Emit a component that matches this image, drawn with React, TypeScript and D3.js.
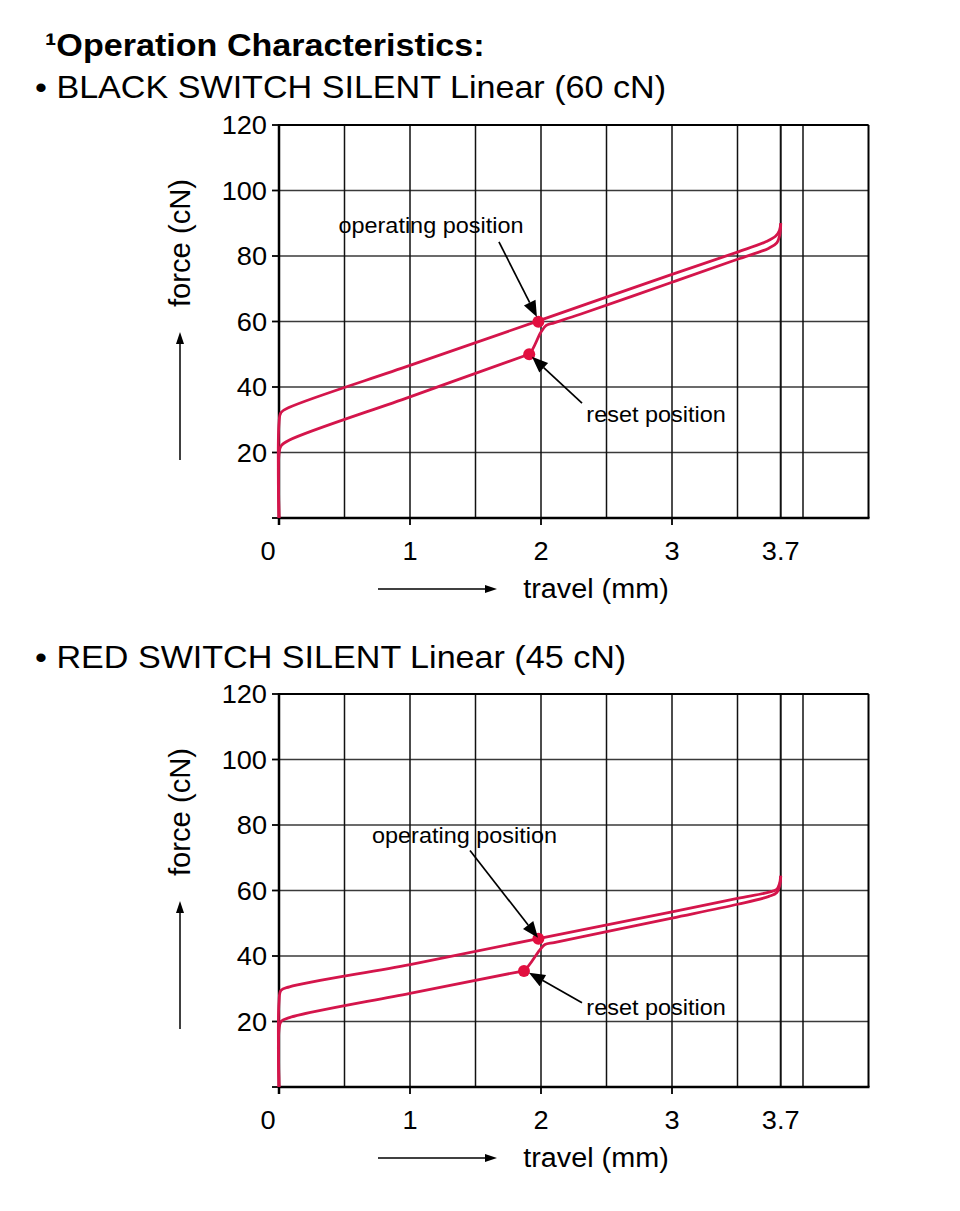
import React from "react";
import * as d3 from "d3";

// ---------- data ----------
const yTickValues = [20, 40, 60, 80, 100, 120];
const xGridValues = [0.5, 1, 1.5, 2, 2.5, 3, 3.5, 3.83, 4];
const xTickValues = [0, 1, 2, 3, 3.83];
const xTickLabels = ["0", "1", "2", "3", "3.7"];
const xAxisTickMarks = [0, 1, 2, 3];

// BLACK switch (60 cN): [travel mm, force cN]
const blackPress: [number, number][] = [
  [0, 0], [0, 29], [0.015, 32.2], [0.08, 33.8], [1, 46.6], [1.98, 60.2],
  [3, 74.4], [3.5, 81.2], [3.72, 84.4], [3.79, 86], [3.82, 87.8], [3.83, 90],
];
const blackRelease: [number, number][] = [
  [3.83, 90], [3.825, 87], [3.8, 84], [3.74, 82.4], [3.5, 79], [3, 72],
  [2.3, 62.2], [2.1, 59.6], [2.04, 58.8], [2.0, 56.8], [1.91, 50], [1.86, 49.3],
  [1, 37], [0.08, 23.8], [0.015, 22], [0, 19.5], [0, 0],
];
const blackOperating: [number, number] = [1.98, 59.9];
const blackReset: [number, number] = [1.91, 50];

// RED switch (45 cN)
const redPress: [number, number][] = [
  [0, 0], [0, 26], [0.015, 29.5], [0.08, 30.6], [1, 37.4], [1.98, 45.3],
  [3, 53.5], [3.5, 57.6], [3.74, 59.5], [3.8, 60.4], [3.82, 62], [3.83, 64.5],
];
const redRelease: [number, number][] = [
  [3.83, 64.5], [3.825, 62], [3.8, 59.4], [3.74, 58.2], [3.5, 55.8], [3, 51.6],
  [2.3, 45.8], [2.1, 44.1], [2.03, 43.5], [1.99, 41.8], [1.87, 35.5], [1.82, 35.1],
  [1, 28.6], [0.08, 21.2], [0.015, 20], [0, 17.5], [0, 0],
];
const redOperating: [number, number] = [1.98, 45.3];
const redReset: [number, number] = [1.87, 35.4];

// annotations: text anchor (center x, baseline), arrow from -> to  (data units)
const blackAnnotations = [
  { label: "operating position", text: [1.16, 87.0], from: [1.679, 84.3], to: [1.969, 61.4] },
  { label: "reset position", text: [2.878, 29.3], from: [2.313, 35.1], to: [1.931, 49.2] },
];
const redAnnotations = [
  { label: "operating position", text: [1.416, 74.4], from: [1.458, 72.2], to: [1.977, 45.6] },
  { label: "reset position", text: [2.878, 22.0], from: [2.313, 25.7], to: [1.908, 34.9] },
];

const titleMain = "\u00B9Operation Characteristics:";
const titleBlack = "\u2022 BLACK SWITCH SILENT Linear (60 cN)";
const titleRed = "\u2022 RED SWITCH SILENT Linear (45 cN)";
const yAxisTitle = "force (cN)";
const xAxisTitle = "travel (mm)";

// ---------- styles ----------
const FONT = "'Liberation Sans', Arial, Helvetica, sans-serif";
const SX = 1.066;
const RED = "#d4154b";
const DOT = "#e20f3f";

function T(props: {
  x: number; y: number; size: number; anchor?: string; weight?: string;
  children: React.ReactNode; rotate?: number; textLength?: number;
}) {
  const { x, y, size, anchor = "start", weight = "normal", children, rotate, textLength } = props;
  const tr = `translate(${x},${y}) scale(${SX},1)` + (rotate ? ` rotate(${rotate})` : "");
  return (
    <text
      transform={tr}
      fontFamily={FONT}
      fontSize={size}
      fontWeight={weight}
      textAnchor={anchor}
      fill="#000"
      textLength={textLength}
      lengthAdjust={textLength ? "spacingAndGlyphs" : undefined}
      dy={rotate ? "0.35em" : undefined}
    >
      {children}
    </text>
  );
}

function Arrow({ x1, y1, x2, y2, head = 13, width = 10, sw = 1.6 }: any) {
  const ang = Math.atan2(y2 - y1, x2 - x1);
  const bx = x2 - head * Math.cos(ang);
  const by = y2 - head * Math.sin(ang);
  const px = -Math.sin(ang) * (width / 2);
  const py = Math.cos(ang) * (width / 2);
  return (
    <g>
      <line x1={x1} y1={y1} x2={bx} y2={by} stroke="#000" strokeWidth={sw} />
      <path d={`M${x2},${y2} L${bx + px},${by + py} L${bx - px},${by - py} Z`} fill="#000" />
    </g>
  );
}

function Chart({ top, press, release, operating, reset, annotations }: any) {
  const left = 279;
  const right = 868.5;
  const bottom = top + 393;
  const x = d3.scaleLinear().domain([0, 4.5]).range([left, right]);
  const y = d3.scaleLinear().domain([0, 120]).range([bottom, top]);
  const line = d3
    .line<[number, number]>()
    .x((d) => x(d[0]))
    .y((d) => y(d[1]))
    .curve(d3.curveCatmullRom.alpha(0.5));

  return (
    <g>
      {/* horizontal grid */}
      {yTickValues.map((v) => (
        <line key={"h" + v} x1={left} x2={right} y1={y(v)} y2={y(v)} stroke="#3a3a3a" strokeWidth={1.4} />
      ))}
      {/* vertical grid */}
      {xGridValues.map((v) => (
        <line key={"v" + v} x1={x(v)} x2={x(v)} y1={top} y2={bottom} stroke="#111" strokeWidth={v === 3.83 ? 2 : 1.5} />
      ))}
      {/* frame */}
      <line x1={left} x2={right} y1={top} y2={top} stroke="#000" strokeWidth={2} />
      <line x1={right} x2={right} y1={top} y2={bottom} stroke="#000" strokeWidth={2} />
      <line x1={left} x2={right + 1} y1={bottom} y2={bottom} stroke="#000" strokeWidth={2.5} />
      <line x1={left} x2={left} y1={top - 1} y2={bottom + 7} stroke="#000" strokeWidth={2.5} />
      {/* ticks */}
      {[0, ...yTickValues].map((v) => (
        <line key={"yt" + v} x1={left - 7} x2={left} y1={y(v)} y2={y(v)} stroke="#000" strokeWidth={1.8} />
      ))}
      {xAxisTickMarks.map((v) => (
        <line key={"xt" + v} x1={x(v)} x2={x(v)} y1={bottom} y2={bottom + 7} stroke="#000" strokeWidth={1.8} />
      ))}
      {/* tick labels */}
      {yTickValues.map((v) => (
        <T key={"yl" + v} x={267} y={y(v) + 9} size={25.5} anchor="end">{String(v)}</T>
      ))}
      {xTickValues.map((v, i) => (
        <T key={"xl" + v} x={x(v) + (v === 0 ? -11 : 0)} y={bottom + 42} size={25.5} anchor="middle">{xTickLabels[i]}</T>
      ))}
      {/* axis titles */}
      <T x={180} y={top + 118} size={28} anchor="middle" rotate={-90} textLength={128}>{yAxisTitle}</T>
      <Arrow x1={180} y1={top + 335} x2={180} y2={top + 207} head={12} width={8} sw={1.5} />
      <T x={596} y={bottom + 80} size={27} anchor="middle">{xAxisTitle}</T>
      <Arrow x1={378} y1={bottom + 71} x2={497} y2={bottom + 71} head={12} width={8} sw={1.5} />
      {/* curves */}
      <path d={line(press) || ""} fill="none" stroke={RED} strokeWidth={2.8} strokeLinejoin="round" />
      <path d={line(release) || ""} fill="none" stroke={RED} strokeWidth={2.8} strokeLinejoin="round" />
      <circle cx={x(operating[0])} cy={y(operating[1])} r={6} fill={DOT} />
      <circle cx={x(reset[0])} cy={y(reset[1])} r={6} fill={DOT} />
      {/* annotations */}
      {annotations.map((a: any) => (
        <g key={a.label}>
          <T x={x(a.text[0])} y={y(a.text[1])} size={22} anchor="middle">{a.label}</T>
          <Arrow x1={x(a.from[0])} y1={y(a.from[1])} x2={x(a.to[0])} y2={y(a.to[1])} head={16} width={13} sw={1.7} />
        </g>
      ))}
    </g>
  );
}

export default function App() {
  return (
    <svg
      width={960}
      height={1211}
      style={{ position: "absolute", left: 0, top: 0, background: "#fff" }}
    >
      <rect x={0} y={0} width={960} height={1211} fill="#fff" />
      <T x={45} y={56} size={32} weight="bold">{titleMain}</T>
      <T x={35} y={98} size={32}>{titleBlack}</T>
      <Chart
        top={125}
        press={blackPress}
        release={blackRelease}
        operating={blackOperating}
        reset={blackReset}
        annotations={blackAnnotations}
      />
      <T x={35} y={668} size={32}>{titleRed}</T>
      <Chart
        top={694}
        press={redPress}
        release={redRelease}
        operating={redOperating}
        reset={redReset}
        annotations={redAnnotations}
      />
    </svg>
  );
}
